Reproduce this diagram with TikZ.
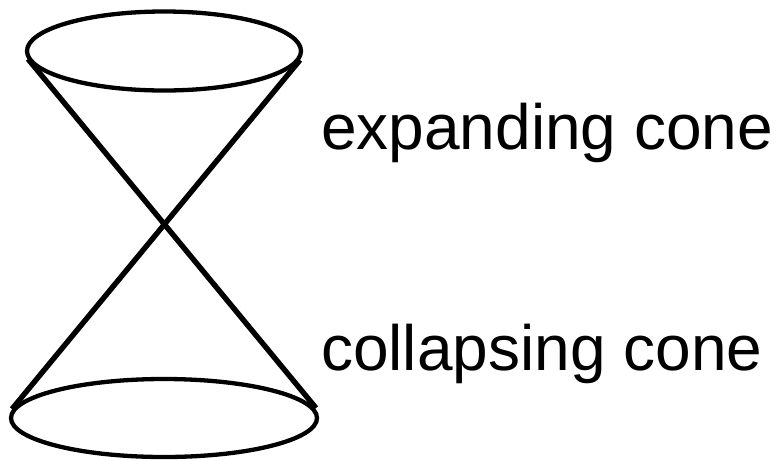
\documentclass[tikz,border=0pt]{standalone}
\usepackage{fontspec}
\setmainfont{Liberation Sans}
\begin{document}
\begin{tikzpicture}[x=1pt,y=-1pt,
  rim/.style={draw=black,line width=4.3pt},
  side/.style={draw=black,line width=5.4pt},
  lbl/.style={anchor=base west,inner sep=0pt,font=\fontsize{64}{70}\selectfont}]
\useasboundingbox (0,0) rectangle (777,459);
\coordinate (tl) at (28,59);
\coordinate (tr) at (300,60);
\coordinate (bl) at (12,409);
\coordinate (br) at (316,408);
\draw[rim] (164,51) ellipse [x radius=137, y radius=39.5];
\draw[rim] (164,418) ellipse [x radius=153, y radius=39];
\draw[side] (tl) -- (br);
\draw[side] (tr) -- (bl);
\node[lbl] (exp) at (321,149) {expanding cone};
\node[lbl] (col) at (321,370) {collapsing cone};
\end{tikzpicture}
\end{document}
